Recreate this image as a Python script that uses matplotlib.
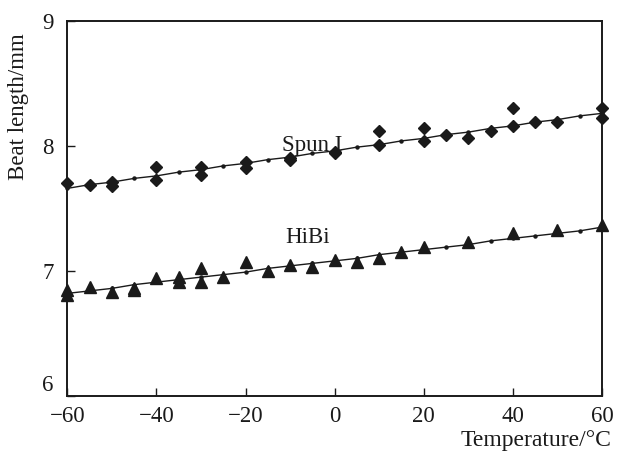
import matplotlib
matplotlib.use("Agg")
import matplotlib.pyplot as plt

plt.rcParams['font.family'] = ['Liberation Serif', 'DejaVu Serif']
plt.rcParams['axes.unicode_minus'] = True

# Spun I measurements (diamonds)
spun_t = [-60, -55, -50, -50, -40, -40, -30, -30, -20, -20, -10, -10, 0, 0,
          10, 10, 20, 20, 25, 30, 35, 40, 40, 45, 50, 60, 60]
spun_b = [7.70, 7.69, 7.71, 7.68, 7.83, 7.73, 7.83, 7.77, 7.87, 7.82, 7.89, 7.90, 7.95, 7.94,
          8.12, 8.01, 8.14, 8.04, 8.09, 8.06, 8.12, 8.30, 8.16, 8.19, 8.19, 8.30, 8.22]

# HiBi measurements (triangles)
hibi_t = [-60, -60, -55, -50, -45, -45, -40, -35, -35, -30, -30, -25, -20, -15, -10, -5, 0,
          5, 10, 15, 20, 30, 40, 50, 60]
hibi_b = [6.85, 6.81, 6.87, 6.83, 6.85, 6.86, 6.94, 6.95, 6.91, 7.02, 6.91, 6.95, 7.07, 7.00,
          7.05, 7.03, 7.09, 7.07, 7.10, 7.15, 7.19, 7.23, 7.30, 7.33, 7.37]

# fitted lines, read at every 5 degC (small dots)
fit_t = [-60, -55, -50, -45, -40, -35, -30, -25, -20, -15, -10, -5, 0,
         5, 10, 15, 20, 25, 30, 35, 40, 45, 50, 55, 60]
spun_fit = [7.66, 7.69, 7.71, 7.74, 7.76, 7.79, 7.81, 7.84, 7.86, 7.89, 7.91, 7.94, 7.96,
            7.99, 8.01, 8.04, 8.06, 8.09, 8.11, 8.14, 8.16, 8.19, 8.21, 8.24, 8.26]
hibi_fit = [6.82, 6.84, 6.86, 6.89, 6.91, 6.93, 6.95, 6.97, 6.99, 7.02, 7.04, 7.06, 7.08,
            7.10, 7.13, 7.15, 7.17, 7.19, 7.21, 7.24, 7.26, 7.28, 7.30, 7.32, 7.35]

xticks = [-60, -40, -20, 0, 20, 40, 60]
yticks = [6, 7, 8, 9]

ink = '#1a1a1a'
fs = 16.5

fig = plt.figure(figsize=(6.18, 4.54), dpi=100)
ax = fig.add_axes([0.109, 0.128, 0.865, 0.826])

ax.plot(fit_t, spun_fit, '-', color=ink, lw=1.0, marker='o', ms=2.2, clip_on=False)
ax.plot(fit_t, hibi_fit, '-', color=ink, lw=1.0, marker='o', ms=2.2, clip_on=False)
ax.plot(spun_t, spun_b, 'D', color=ink, ms=6.3, ls='none', clip_on=False)
ax.plot(hibi_t, hibi_b, '^', color=ink, ms=8.5, ls='none', clip_on=False)

ax.text(-5, 8.0, 'Spun I', fontsize=fs, ha='center', va='center', color=ink)
ax.text(-6, 7.27, 'HiBi', fontsize=fs, ha='center', va='center', color=ink)

ax.set_xlim(-60, 60)
ax.set_ylim(6, 9)
ax.set_xticks(xticks)
ax.set_yticks(yticks)
ax.tick_params(direction='in', length=6, width=1.0, labelsize=fs, colors=ink)
ax.tick_params(axis='x', pad=7)
ax.tick_params(axis='y', pad=10)
for s in ax.spines.values():
    s.set_linewidth(1.4)
    s.set_color(ink)

for lab in ax.get_yticklabels():
    if lab.get_text() == '6':
        lab.set_verticalalignment('bottom')

fig.text(0.99, 0.03, 'Temperature/°C', fontsize=fs + 0.5, ha='right', va='center', color=ink)
fig.text(0.03, 0.765, 'Beat length/mm', fontsize=fs, rotation=90, ha='center', va='center', color=ink)

fig.savefig('out.png', dpi=100)
